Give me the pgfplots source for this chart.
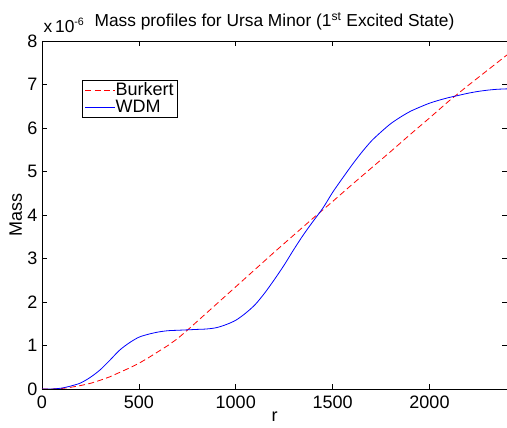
\documentclass[border=0pt]{standalone}
\usepackage{pgfplots}
\pgfplotsset{compat=1.18}
\usepackage{fontspec}
\setmainfont{Liberation Sans}

\begin{document}
\fontsize{13}{15}\selectfont
\begin{tikzpicture}
\begin{axis}[
    name=ax,
    scale only axis,
    width=348.75pt,
    height=261pt,
    xmin=0, xmax=2400,
    ymin=0, ymax=8,
    xtick={0,500,1000,1500,2000},
    ytick={0,1,2,3,4,5,6,7,8},
    tick align=inside,
    major tick length=4pt,
    tick style={black, line width=0.4pt},
    axis line style={black, line width=0.5pt},
    /pgf/number format/assume math mode=true,
    /pgf/number format/1000 sep={},
    ticklabel style={font=\fontsize{13.5}{15}\selectfont},
    xticklabel style={yshift=-0.5pt},
    yticklabel style={xshift=1pt},
    title={Mass profiles for Ursa Minor (1\textsuperscript{st} Excited State)},
    title style={yshift=-2pt, font=\fontsize{13}{15}\selectfont},
    xlabel={r},
    xlabel style={yshift=6pt, font=\fontsize{13.5}{15}\selectfont},
    ylabel={Mass},
    ylabel style={yshift=-5pt, font=\fontsize{13.5}{15}\selectfont},
    legend cell align=left,
    legend style={at={(rel axis cs:0.086,0.888)}, anchor=north west,
        inner xsep=2pt, inner ysep=1.5pt, row sep=0pt,
        font=\fontsize{13.5}{15}\selectfont,
        nodes={inner sep=0.5pt}},
    legend image code/.code={\draw[#1] (0pt,0pt) -- (22pt,0pt);},
]
% Burkert (units of 1e-6)
\addplot[color=red, line width=0.6pt, dash pattern=on 4.5pt off 2.5pt] coordinates {
(0,0) (50,0) (100,0.01) (150,0.04) (200,0.08) (250,0.13) (300,0.2)
(350,0.28) (400,0.38) (450,0.48) (500,0.59) (550,0.72) (600,0.86)
(650,1.0) (700,1.16) (750,1.35) (800,1.55) (900,1.95) (1000,2.35)
(1100,2.75) (1200,3.15) (1300,3.54) (1400,3.93) (1450,4.12) (1500,4.31)
(1600,4.70) (1700,5.08) (1800,5.46) (1900,5.85) (2000,6.23) (2100,6.62)
(2200,6.98) (2300,7.33) (2400,7.68)
};
\addlegendentry{Burkert}
% WDM
\addplot[color=blue, line width=0.6pt, smooth] coordinates {
(0,0) (50,0) (100,0.02) (150,0.07) (200,0.14) (250,0.27) (300,0.44)
(350,0.66) (400,0.89) (450,1.06) (500,1.19) (550,1.26) (600,1.31)
(650,1.34) (700,1.35) (750,1.36) (800,1.37) (850,1.38) (900,1.41)
(950,1.48) (1000,1.58) (1050,1.74) (1100,1.94) (1150,2.21) (1200,2.52)
(1250,2.85) (1300,3.21) (1350,3.55) (1400,3.86) (1450,4.16) (1500,4.52)
(1550,4.84) (1600,5.15) (1650,5.44) (1700,5.70) (1750,5.91) (1800,6.10)
(1850,6.25) (1900,6.38) (1950,6.48) (2000,6.57) (2050,6.64) (2100,6.70)
(2150,6.75) (2200,6.80) (2250,6.84) (2300,6.87) (2350,6.89) (2400,6.90)
};
\addlegendentry{WDM}
\end{axis}
\node[anchor=south west, inner sep=0pt, font=\fontsize{13}{15}\selectfont]
    at ([yshift=6pt, xshift=1pt]ax.north west) {x\,10{\fontsize{8}{9}\selectfont\raisebox{5pt}{-6}}};
\pgfresetboundingbox
\useasboundingbox ([xshift=-31.5pt, yshift=-29.25pt]ax.south west)
    rectangle ([yshift=30.75pt]ax.north east);
\end{tikzpicture}
\end{document}
